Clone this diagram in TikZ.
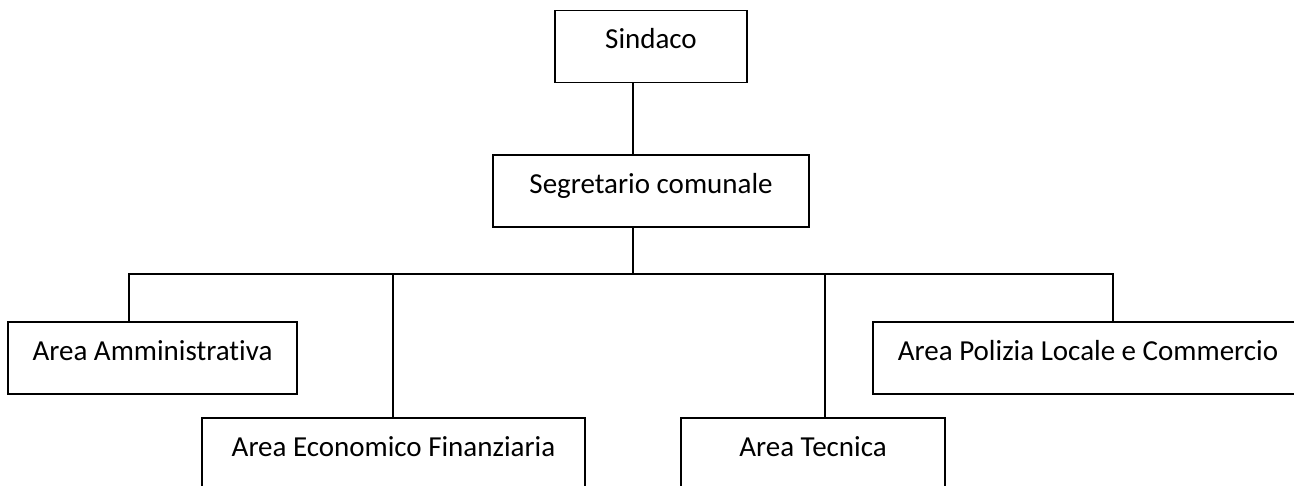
\documentclass[tikz,border=0pt]{standalone}
\usepackage{fontspec}
\setmainfont{Carlito}[Ligatures=CommonOff]
\tikzset{
  area/.style={draw=black, line width=1.1pt, inner sep=0pt, text height=0.77cm, text depth=0.67cm, font=\fontsize{16.5}{20}\selectfont},
  link/.style={line width=0.8pt}
}
\begin{document}
\begin{tikzpicture}[x=0.02cm,y=-0.02cm]
\useasboundingbox (0,0) rectangle (1294,486);
\node[area, minimum width=3.84cm] (sindaco) at (651,46.5) {Sindaco};
\node[area, minimum width=6.32cm] (segretario) at (651,191) {Segretario comunale};
\node[area, minimum width=5.78cm] (amministrativa) at (152.5,358) {Area Amministrativa};
\node[area, minimum width=8.6cm] (polizia) at (1088,358) {Area Polizia Locale e Commercio};
\node[area, minimum width=7.66cm] (economico) at (393.5,454) {Area Economico Finanziaria};
\node[area, minimum width=5.28cm] (tecnica) at (813,454) {Area Tecnica};
% the bus under Segretario
\coordinate (bus) at (633,274);
\coordinate (busA) at (129,274);
\coordinate (busE) at (393,274);
\coordinate (busT) at (825,274);
\coordinate (busP) at (1113,274);
\draw[link] (sindaco.south -| bus) -- (segretario.north -| bus);
\draw[link] (segretario.south -| bus) -- (bus);
\draw[link] (amministrativa.north -| busA) -- (busA) -- (busP) -- (polizia.north -| busP);
\draw[link] (busE) -- (economico.north -| busE);
\draw[link] (busT) -- (tecnica.north -| busT);
\end{tikzpicture}
\end{document}
